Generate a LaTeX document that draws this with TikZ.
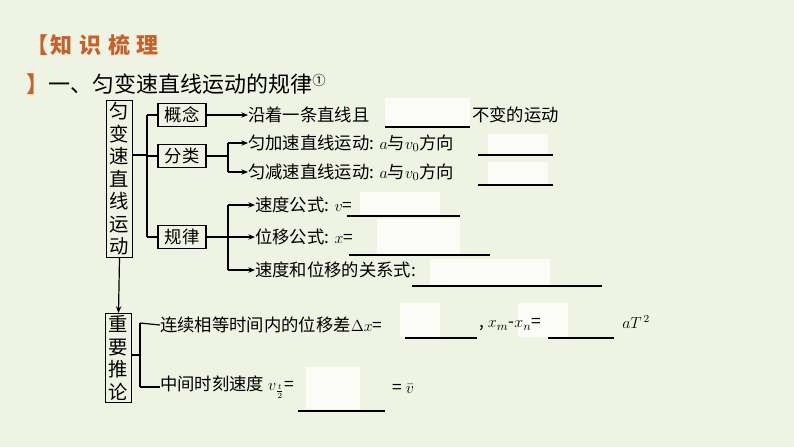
\documentclass[tikz,border=0pt]{standalone}
\usepackage[no-math]{fontspec}
\setmainfont{Noto Sans CJK SC}
\usetikzlibrary{arrows.meta}
\definecolor{bg}{HTML}{EEF3E3}
\definecolor{ttl}{HTML}{C4622D}
\tikzset{
 box/.style={draw,line width=0.9pt,inner sep=2pt,font=\fontsize{13}{15}\selectfont,minimum height=17pt,minimum width=36pt},
 vbox/.style={draw,line width=0.9pt,inner sep=1.5pt,align=center,font=\fontsize{14.5}{16.9}\selectfont},
 txt/.style={anchor=west,inner sep=0pt,font=\fontsize{13}{15}\selectfont},
 ln/.style={line width=0.9pt},
 arr/.style={ln,-{Stealth[length=5pt,width=4pt]}},
 blank/.style={fill=white!75!bg,draw=none},
 ul/.style={line width=0.9pt}
}
\begin{document}
\begin{tikzpicture}[x=0.75pt,y=-0.75pt]
\fill[bg] (0,0) rectangle (794,447);
\useasboundingbox (0,0) rectangle (794,447);
\node[txt,text=ttl,font=\fontsize{16.5}{18}\selectfont\bfseries] (t1) at (26,45) {【\hspace{2pt}知\hspace{5pt}识\hspace{5pt}梳\hspace{5pt}理};
\node[txt,font=\fontsize{16.5}{18}\selectfont] (t2) at (26,84) {\textcolor{ttl}{\bfseries 】}一、匀变速直线运动的规律\raisebox{5pt}{\fontsize{10}{10}\selectfont ①}};
% white blanks
\fill[blank] (385,98) rectangle (470,126);
\fill[blank] (488,134) rectangle (548,155);
\fill[blank] (488,162) rectangle (548,185);
\fill[blank] (360,192) rectangle (440,215);
\fill[blank] (377,219) rectangle (460,254);
\fill[blank] (430,259) rectangle (550,285);
\fill[blank] (400,303) rectangle (440,337);
\fill[blank] (518,303) rectangle (568,337);
\fill[blank] (306,367) rectangle (360,409);
% main boxes
\node[vbox,minimum width=20pt] (m) at (119.5,179) {匀\\变\\速\\直\\线\\运\\动};
\node[vbox,minimum width=20pt] (z) at (118.5,358) {重\\要\\推\\论};
\node[box] (g) at (182,115) {概念};
\node[box] (f) at (182,156) {分类};
\node[box] (r) at (182,237) {规律};
\coordinate (j) at (147,155);
\draw[ln] (m.east |- j) -- (j);
\draw[ln] (147,115) -- (147,237);
\draw[ln] (147,115) -- (g.west);
\draw[ln] (147,156) -- (f.west);
\draw[ln] (147,237) -- (r.west);
\draw[arr] (m.south) -- (z.north);
% texts
\node[txt] (a1) at (248,115) {沿着一条直线且};
\draw[ul] (385,127) -- (470,127);
\node[txt] (a2) at (472,115) {不变的运动};
\draw[arr] (g.east) -- (a1.west);
\node[txt] (b1) at (248,143) {匀加速直线运动: $a$与$v_0$方向};
\node[txt] (b2) at (248,172) {匀减速直线运动: $a$与$v_0$方向};
\draw[ul] (478,155) -- (553,155);
\draw[ul] (478,185) -- (553,185);
\draw[ln] (f.east) -- (228,156);
\draw[ln] (228,143) -- (228,172);
\draw[arr] (228,143) -- (b1.west);
\draw[arr] (228,172) -- (b2.west);
\node[txt] (c1) at (255,205) {速度公式: $v$=};
\node[txt] (c2) at (255,237) {位移公式: $x$=};
\node[txt] (c3) at (255,270) {速度和位移的关系式:};
\draw[ul] (347,216) -- (460,216);
\draw[ul] (349,255) -- (490,255);
\draw[ul] (412,286) -- (602,286);
\draw[ln] (r.east) -- (228,237);
\draw[ln] (228,205) -- (228,270);
\draw[arr] (228,205) -- (c1.west);
\draw[arr] (228,237) -- (c2.west);
\draw[arr] (228,270) -- (c3.west);
% inferences
\node[txt] (d1) at (160,325) {连续相等时间内的位移差$\Delta x$=};
\draw[ul] (405,338) -- (477,338);
\node[txt] (d2) at (479,325) {, $x_m$-$x_n$=};
\draw[ul] (548,338) -- (614,338);
\node[txt] (d3) at (622,322) {\large$aT^{\,2}$};
\node[txt] (e1) at (160,387) {中间时刻速度 $v_{\frac{t}{2}}$=};
\draw[ul] (298,411) -- (385,411);
\node[txt] (e2) at (392,389) {= $\bar v$};
\draw[ln] (z.east |- 0,355) -- (140,355);
\draw[ln] (140,323) -- (140,387);
\draw[ln] (140,323) -- (d1.west);
\draw[ln] (140,387) -- (e1.west);
\end{tikzpicture}
\end{document}
